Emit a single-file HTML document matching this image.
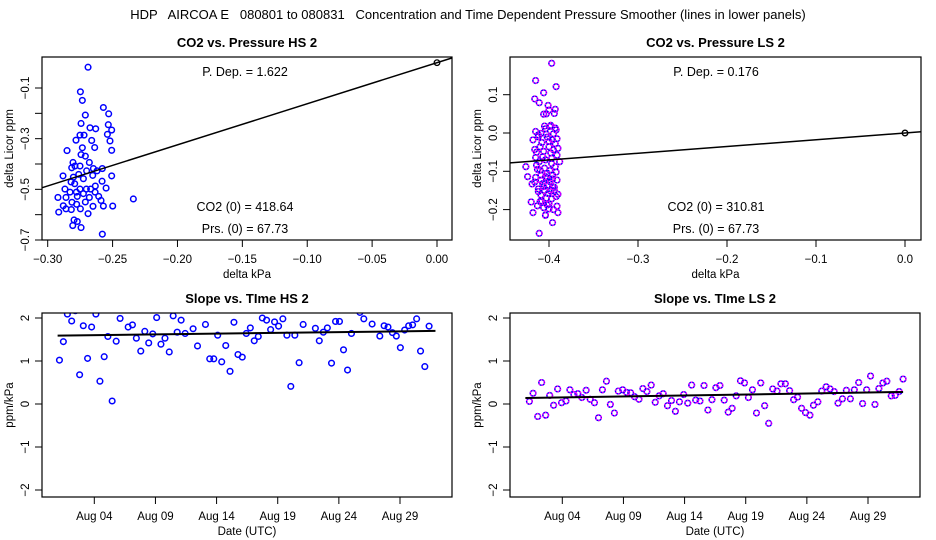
<!DOCTYPE html>
<html><head><meta charset="utf-8">
<style>
html,body{margin:0;padding:0;background:#fff;}
svg{display:block;font-family:"Liberation Sans",sans-serif;}
</style></head>
<body>
<svg id="chart" width="936" height="540" viewBox="0 0 936 540" xmlns="http://www.w3.org/2000/svg">
<rect x="0" y="0" width="936" height="540" fill="#fff"/>
<text x="468" y="19" font-size="13" text-anchor="middle" xml:space="preserve">HDP   AIRCOA E   080801 to 080831   Concentration and Time Dependent Pressure Smoother (lines in lower panels)</text>
<g id="root"></g>
</svg>
<script>
// ---- Top-left: CO2 vs Pressure HS 2 ----
const hsDx = [-0.2689,-0.2748,-0.2733,-0.2571,-0.2530,-0.2710,-0.2743,-0.2533,-0.2674,-0.2630,-0.2507,-0.2751,-0.2720,-0.2540,-0.2782,-0.2661,-0.2520,-0.2733,-0.2638,-0.2851,-0.2507,-0.2743,-0.2710,-0.2679,-0.2805,-0.2790,-0.2751,-0.2815,-0.2648,-0.2579,-0.2700,-0.2620,-0.2761,-0.2882,-0.2653,-0.2507,-0.2802,-0.2725,-0.2820,-0.2581,-0.2792,-0.2633,-0.2550,-0.2867,-0.2751,-0.2702,-0.2669,-0.2779,-0.2828,-0.2635,-0.2725,-0.2772,-0.2921,-0.2859,-0.2679,-0.2607,-0.2589,-0.2340,-0.2813,-0.2777,-0.2710,-0.2880,-0.2651,-0.2571,-0.2499,-0.2859,-0.2818,-0.2748,-0.2915,-0.2689,-0.2797,-0.2772,-0.2807,-0.2743,-0.2579];
const hsDc = [-0.018,-0.115,-0.149,-0.177,-0.202,-0.207,-0.240,-0.245,-0.257,-0.261,-0.266,-0.286,-0.286,-0.283,-0.306,-0.307,-0.309,-0.336,-0.335,-0.347,-0.346,-0.363,-0.369,-0.394,-0.394,-0.408,-0.408,-0.415,-0.418,-0.418,-0.427,-0.427,-0.441,-0.447,-0.445,-0.447,-0.452,-0.458,-0.471,-0.468,-0.478,-0.487,-0.495,-0.499,-0.499,-0.499,-0.499,-0.511,-0.511,-0.511,-0.517,-0.528,-0.532,-0.532,-0.532,-0.528,-0.544,-0.538,-0.551,-0.559,-0.550,-0.565,-0.567,-0.566,-0.566,-0.577,-0.580,-0.577,-0.590,-0.596,-0.621,-0.627,-0.643,-0.651,-0.677];
const hsSlope = 1.622;
const hsXTicks = [-0.30,-0.25,-0.20,-0.15,-0.10,-0.05,0.00];
const hsXLabels = ["\u22120.30","\u22120.25","\u22120.20","\u22120.15","\u22120.10","\u22120.05","0.00"];
const hsYTicks = [-0.1,-0.2,-0.3,-0.4,-0.5,-0.6,-0.7];
const hsYLabelVals = [-0.1,-0.3,-0.5,-0.7];
const hsYLabels = ["\u22120.1","\u22120.3","\u22120.5","\u22120.7"];

// ---- Top-right: CO2 vs Pressure LS 2 ----
const lsDx = [-0.397,-0.415,-0.392,-0.406,-0.416,-0.411,-0.401,-0.393,-0.400,-0.403,-0.406,-0.394,-0.415,-0.409,-0.404,-0.399,-0.393,-0.418,-0.412,-0.402,-0.396,-0.391,-0.416,-0.410,-0.400,-0.395,-0.390,-0.415,-0.407,-0.397,-0.388,-0.426,-0.393,-0.410,-0.402,-0.396,-0.424,-0.415,-0.409,-0.399,-0.391,-0.419,-0.406,-0.396,-0.412,-0.401,-0.392,-0.420,-0.410,-0.400,-0.391,-0.418,-0.404,-0.396,-0.390,-0.411,-0.404,-0.414,
 -0.405,-0.398,-0.392,-0.412,-0.403,-0.395,-0.408,-0.400,-0.393,-0.414,-0.406,-0.398,-0.391,-0.411,-0.404,-0.397,-0.413,-0.405,-0.399,-0.392,-0.409,-0.402,-0.396,-0.416,-0.407,-0.401,-0.394,-0.412,-0.405,-0.398,-0.390,-0.409,-0.403,-0.397,-0.413,-0.406,-0.400,-0.394,-0.408,-0.402,-0.395,-0.404];
const lsDc = [0.182,0.137,0.121,0.105,0.089,0.079,0.072,0.062,0.060,0.050,0.049,0.051,0.004,-0.001,0.011,0.017,0.013,-0.018,-0.010,-0.011,-0.018,-0.015,-0.043,-0.036,-0.036,-0.044,-0.040,-0.064,-0.062,-0.066,-0.075,-0.088,-0.088,-0.097,-0.105,-0.110,-0.114,-0.116,-0.123,-0.127,-0.123,-0.133,-0.140,-0.140,-0.153,-0.158,-0.166,-0.180,-0.179,-0.185,-0.191,-0.208,-0.214,-0.234,-0.208,-0.262,-0.114,-0.084,
 0.018,0.020,0.008,-0.005,-0.003,-0.002,-0.025,-0.022,-0.028,-0.050,-0.048,-0.052,-0.058,-0.075,-0.070,-0.080,-0.095,-0.092,-0.098,-0.102,-0.110,-0.118,-0.120,-0.128,-0.132,-0.136,-0.142,-0.146,-0.150,-0.152,-0.160,-0.162,-0.170,-0.172,-0.190,-0.195,-0.198,-0.150,-0.178,-0.188,-0.200,-0.215];
const lsSlope = 0.176;
const lsXTicks = [-0.4,-0.3,-0.2,-0.1,0.0];
const lsXLabels = ["\u22120.4","\u22120.3","\u22120.2","\u22120.1","0.0"];
const lsYTicks = [0.1,0.0,-0.1,-0.2];
const lsYLabels = ["0.1","0.0","\u22120.1","\u22120.2"];

// ---- Bottom-left: Slope vs Time HS 2 ----
const hsDays = [1.15,1.47,1.80,2.15,2.45,2.80,3.10,3.45,3.78,4.13,4.46,4.81,5.11,5.46,5.79,6.11,6.77,7.12,7.44,7.80,8.13,8.45,8.78,9.10,9.45,9.78,10.13,10.45,10.78,11.10,11.43,12.08,12.44,13.09,13.44,13.77,14.09,14.42,14.75,15.10,15.42,15.75,16.10,16.43,16.76,17.08,17.41,17.74,18.09,18.42,18.74,19.07,19.42,19.75,20.07,20.40,20.75,21.08,21.40,22.08,22.40,22.73,23.06,23.40,23.73,24.05,24.38,24.71,25.03,25.39,25.72,26.04,26.72,27.35,27.70,28.02,28.38,28.70,29.03,29.38,29.71,30.03,30.36,30.68,31.03,31.38];
const hsSlopes = [1.02,1.45,2.09,1.93,2.17,0.68,1.82,1.06,1.79,2.09,0.53,1.10,1.57,0.07,1.46,1.99,1.79,1.84,1.53,1.23,1.69,1.42,1.63,2.01,1.39,1.53,1.21,2.05,1.67,1.95,1.64,1.75,1.35,1.85,1.05,1.05,1.60,0.98,1.36,0.76,1.90,1.15,1.09,1.64,1.77,1.47,1.57,2.00,1.95,1.73,1.91,1.81,1.98,1.60,0.41,1.60,0.96,1.85,2.21,1.76,1.47,1.67,1.77,0.95,1.92,1.92,1.26,0.79,1.64,2.25,2.13,1.98,1.86,1.58,1.82,1.79,1.66,1.58,1.31,1.72,1.82,1.84,1.98,1.23,0.87,1.81];
const hsTrendDays = [1.0,31.9];
const hsTrendVals = [1.59,1.70];

// ---- Bottom-right: Slope vs Time LS 2 ----
const lsDays = [1.31,1.61,1.99,2.31,2.64,2.97,3.29,3.62,3.94,4.30,4.62,4.95,5.27,5.60,5.95,6.28,6.63,6.96,7.28,7.61,7.93,8.26,8.58,8.94,9.26,9.59,9.91,10.27,10.59,10.92,11.27,11.60,11.92,12.25,12.60,12.93,13.25,13.58,13.93,14.26,14.58,14.91,15.26,15.59,15.91,16.24,16.56,16.89,17.24,17.57,17.89,18.22,18.57,18.90,19.22,19.55,19.88,20.23,20.55,20.88,21.21,21.56,21.88,22.24,22.59,22.92,23.24,23.57,23.89,24.25,24.54,24.90,25.22,25.58,25.90,26.23,26.55,26.91,27.23,27.56,27.88,28.24,28.56,28.89,29.21,29.57,29.89,30.22,30.54,30.90,31.22,31.55,31.87];
const lsSlopes = [0.06,0.25,-0.29,0.50,-0.26,0.20,-0.03,0.35,0.03,0.07,0.33,0.22,0.24,0.15,0.32,0.11,0.03,-0.32,0.33,0.53,-0.01,-0.21,0.30,0.33,0.27,0.26,0.17,0.11,0.36,0.29,0.44,0.04,0.19,0.24,-0.04,0.08,-0.17,0.05,0.22,0.02,0.44,0.09,0.07,0.43,-0.14,0.10,0.38,0.43,0.09,-0.19,-0.10,0.19,0.54,0.49,0.15,0.33,-0.21,0.49,-0.04,-0.45,0.35,0.30,0.47,0.47,0.31,0.10,0.16,-0.10,-0.20,-0.26,-0.03,0.05,0.30,0.40,0.35,0.29,0.02,0.12,0.32,0.12,0.33,0.50,0.01,0.33,0.65,-0.01,0.36,0.49,0.53,0.19,0.20,0.29,0.58];
const lsTrendDays = [0.98,31.87];
const lsTrendVals = [0.14,0.28];

const dateTicks = [4,9,14,19,24,29];
const dateLabels = ["Aug 04","Aug 09","Aug 14","Aug 19","Aug 24","Aug 29"];
const slopeTicks = [2,1,0,-1,-2];
const slopeLabels = ["2","1","0","\u22121","\u22122"];

const NS = "http://www.w3.org/2000/svg";
const root = document.getElementById('root');
function el(tag, attrs, parent){
  const e = document.createElementNS(NS, tag);
  for (const k in attrs) e.setAttribute(k, attrs[k]);
  (parent||root).appendChild(e);
  return e;
}
function txt(s, x, y, size, anchor, parent, rot){
  const t = el('text', {x:x, y:y, 'font-size':size, 'text-anchor':anchor||'middle', fill:'#000'}, parent);
  if (rot) t.setAttribute('transform', 'rotate(-90 '+x+' '+y+')');
  t.setAttribute('xml:space','preserve');
  t.textContent = s;
  return t;
}
function lin(d0,d1,p0,p1){ return v => p0 + (v-d0)*(p1-p0)/(d1-d0); }

function panel(name, box, title){
  const g = el('g', {});
  
  
  const t = txt(title, (box.x0+box.x1)/2, box.y0-10, 13, 'middle', g);
  t.setAttribute('font-weight','bold');
  
  
  const cid = name+'-clip';
  const cp = el('clipPath', {id:cid}, g);
  el('rect', {x:box.x0, y:box.y0, width:box.x1-box.x0, height:box.y1-box.y0}, cp);
  const plot = el('g', {'clip-path':'url(#'+cid+')'}, g);
  
  
  const fr = el('rect', {x:box.x0, y:box.y0, width:box.x1-box.x0, height:box.y1-box.y0, fill:'none', stroke:'#000', 'stroke-width':1.2}, g);
  
  
  return {g, plot};
}
function xAxis(g, box, sx, ticks, labels, title, name){
  const ax = el('g', {}, g);
  
  
  ticks.forEach((v,i)=>{
    const x = sx(v);
    el('line', {x1:x, y1:box.y1, x2:x, y2:box.y1+7, stroke:'#000', 'stroke-width':1}, ax);
    const l = txt(labels[i], x, box.y1+23, 11.5, 'middle', ax);
    
    
  });
  const at = txt(title, (box.x0+box.x1)/2, box.y1+38, 11.5, 'middle', ax);
  
  
}
function yAxis(g, box, sy, ticks, labVals, labels, title, name){
  const ax = el('g', {}, g);
  
  
  ticks.forEach(v=>{
    const y = sy(v);
    el('line', {x1:box.x0-7, y1:y, x2:box.x0, y2:y, stroke:'#000', 'stroke-width':1}, ax);
  });
  labVals.forEach((v,i)=>{
    const y = sy(v);
    const l = txt(labels[i], box.x0-13, y, 11.5, 'middle', ax, true);
    
    
  });
  const at = txt(title, box.x0-29, (box.y0+box.y1)/2, 11.5, 'middle', ax, true);
  
  
}
function pts(plot, xs, ys, sx, sy, magenta, name){
  const g = el('g', {}, plot);
  
  
  xs.forEach((v,i)=>{
    const cx = sx(v), cy = sy(ys[i]);
    const c = el('circle', {cx:cx, cy:cy, r:2.8, fill:'none', stroke:'#0000ff', 'stroke-width':1.5}, g);
    
    
    if (magenta){
      el('circle', {cx:cx, cy:cy, r:2.8, fill:'none', stroke:'#ff00ff', 'stroke-width':1.5, 'stroke-dasharray':'1.5 1.5'}, g);
    }
  });
}

// Panel 1
(function(){
  const box = {x0:42, x1:452, y0:57, y1:240};
  const sx = lin(-0.30, 0.00, 47.7, 437);
  const sy = lin(-0.1, -0.7, 88, 240);
  const p = panel('co2-vs-pressure-hs', box, 'CO2 vs. Pressure HS 2');
  xAxis(p.g, box, sx, hsXTicks, hsXLabels, 'delta kPa', 'co2-vs-pressure-hs');
  yAxis(p.g, box, sy, hsYTicks, hsYLabelVals, hsYLabels, 'delta Licor ppm', 'co2-vs-pressure-hs');
  pts(p.plot, hsDx, hsDc, sx, sy, false, 'hs-scatter-points');
  const fl = el('line', {x1:sx(-0.32), y1:sy(-0.32*hsSlope), x2:sx(0.03), y2:sy(0.03*hsSlope), stroke:'#000', 'stroke-width':1.5}, p.plot);
   
  const o = el('circle', {cx:sx(0), cy:sy(0), r:2.8, fill:'none', stroke:'#000', 'stroke-width':1.3}, p.plot);
   
  const a1 = txt('P. Dep. =  1.622', 245, 76, 12.5, 'middle', p.g);
   
  const a2 = txt('CO2 (0) =  418.64', 245, 211, 12.5, 'middle', p.g);
   
  const a3 = txt('Prs. (0) =  67.73', 245, 233, 12.5, 'middle', p.g);
   
})();

// Panel 2
(function(){
  const box = {x0:510, x1:921, y0:57, y1:240};
  const sx = lin(-0.4, 0.0, 549, 905);
  const sy = lin(0.0, -0.1, 133, 171.3);
  const p = panel('co2-vs-pressure-ls', box, 'CO2 vs. Pressure LS 2');
  xAxis(p.g, box, sx, lsXTicks, lsXLabels, 'delta kPa', 'co2-vs-pressure-ls');
  yAxis(p.g, box, sy, lsYTicks, lsYTicks, lsYLabels, 'delta Licor ppm', 'co2-vs-pressure-ls');
  pts(p.plot, lsDx, lsDc, sx, sy, true, 'ls-scatter-points');
  const fl = el('line', {x1:sx(-0.5), y1:sy(-0.5*lsSlope), x2:sx(0.05), y2:sy(0.05*lsSlope), stroke:'#000', 'stroke-width':1.5}, p.plot);
   
  const o = el('circle', {cx:sx(0), cy:sy(0), r:2.8, fill:'none', stroke:'#000', 'stroke-width':1.3}, p.plot);
   
  const a1 = txt('P. Dep. =  0.176', 716, 76, 12.5, 'middle', p.g);
   
  const a2 = txt('CO2 (0) =  310.81', 716, 211, 12.5, 'middle', p.g);
   
  const a3 = txt('Prs. (0) =  67.73', 716, 233, 12.5, 'middle', p.g);
   
})();

// Panels 3 and 4
function timePanel(name, title, x0, days, vals, tDays, tVals, magenta){
  const box = {x0:x0, x1:x0+410, y0:313, y1:497};
  const sx = lin(4, 29, x0+52.3, x0+358);
  const sy = lin(0, 2, 404, 318);
  const p = panel(name, box, title);
  xAxis(p.g, box, sx, dateTicks, dateLabels, 'Date (UTC)', name);
  yAxis(p.g, box, sy, slopeTicks, slopeTicks, slopeLabels, 'ppm/kPa', name);
  pts(p.plot, days, vals, sx, sy, magenta, name+'-points');
  const tl = el('line', {x1:sx(tDays[0]), y1:sy(tVals[0]), x2:sx(tDays[1]), y2:sy(tVals[1]), stroke:'#000', 'stroke-width':2}, p.plot);
   
}
timePanel('slope-vs-time-hs', 'Slope vs. TIme HS 2', 42, hsDays, hsSlopes, hsTrendDays, hsTrendVals, false);
timePanel('slope-vs-time-ls', 'Slope vs. TIme LS 2', 510, lsDays, lsSlopes, lsTrendDays, lsTrendVals, true);
</script>
</body></html>
